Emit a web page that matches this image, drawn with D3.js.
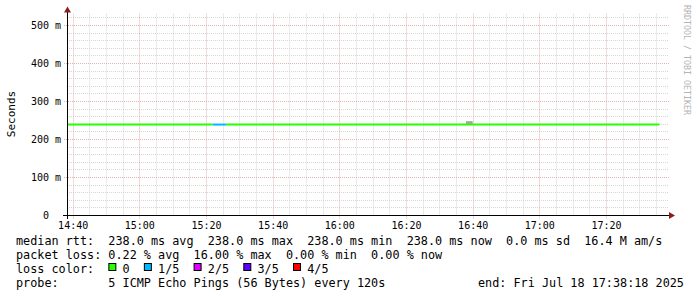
<!DOCTYPE html>
<html><head><meta charset="utf-8">
<script src="https://cdn.jsdelivr.net/npm/d3@7/dist/d3.min.js"></script>
<style>
html,body{margin:0;padding:0;background:#fff;}
svg{display:block;}
text{font-family:"DejaVu Sans Mono",monospace;white-space:pre;}
</style></head>
<body>
<script>
// ---- data ----
const startTime = "14:38:18";
const endTime = "17:38:18";
const segStart = ["14:38:18", "15:22:00", "15:26:00"];
const segEnd   = ["15:22:00", "15:26:00", "17:36:00"];
const segMedianMs = [238, 238, 238];
const segLoss = ["0", "1/5", "0"];
const smokeStart = ["16:38:00"];
const smokeEnd = ["16:40:00"];
const smokeLoMs = [238];
const smokeHiMs = [247];
const yTicks = [0, 100, 200, 300, 400, 500];
const yTickLabels = ["0  ", "100 m", "200 m", "300 m", "400 m", "500 m"];
const lossLabels = ["0", "1/5", "2/5", "3/5", "4/5"];
const lossColors = ["#26ff00", "#00b8ff", "#dd00ff", "#5e00ff", "#ff0000"];
const legendLines = [
  "median rtt:  238.0 ms avg  238.0 ms max  238.0 ms min  238.0 ms now  0.0 ms sd  16.4 M am/s",
  "packet loss: 0.22 % avg  16.00 % max  0.00 % min  0.00 % now",
  "loss color:",
  "probe:       5 ICMP Echo Pings (56 Bytes) every 120s"
];
const endLabel = "end: Fri Jul 18 17:38:18 2025";
const yTitle = "Seconds";
const watermark = "RRDTOOL / TOBI OETIKER";

// ---- layout ----
const W = 697, H = 297;
const L = 67, R = 667, B = 215, T = 13.6;
const parse = d3.timeParse("%H:%M:%S");
const x = d3.scaleTime().domain([parse(startTime), parse(endTime)]).range([L, R]);
const y = d3.scaleLinear().domain([0, 530]).range([B, T]);
const lossColor = d3.scaleOrdinal().domain(lossLabels).range(lossColors);

const svg = d3.select("body").append("svg").attr("width", W).attr("height", H);

const majorCol = "#e6b3b3", minorCol = "#d6d6d6";
// minor grid
const minorY = d3.range(0, 521, 20).filter(v => v % 100 !== 0);
svg.append("g").selectAll("line").data(minorY).join("line")
  .attr("x1", L).attr("x2", R + 2)
  .attr("y1", d => Math.round(y(d)) + 0.5).attr("y2", d => Math.round(y(d)) + 0.5)
  .attr("stroke", minorCol).attr("stroke-dasharray", "1,1");
const minorX = d3.timeMinute.every(5).range(parse(startTime), parse(endTime))
  .filter(d => d.getMinutes() % 20 !== 0);
svg.append("g").selectAll("line").data(minorX).join("line")
  .attr("x1", d => Math.round(x(d)) + 0.5).attr("x2", d => Math.round(x(d)) + 0.5)
  .attr("y1", T).attr("y2", B)
  .attr("stroke", minorCol).attr("stroke-dasharray", "1,1");
// major grid
svg.append("g").selectAll("line").data(yTicks.slice(1)).join("line")
  .attr("x1", L - 3).attr("x2", R + 2)
  .attr("y1", d => Math.round(y(d)) + 0.5).attr("y2", d => Math.round(y(d)) + 0.5)
  .attr("stroke", majorCol).attr("stroke-dasharray", "1,1");
const majorX = d3.timeMinute.every(20).range(parse(startTime), parse(endTime));
svg.append("g").selectAll("line").data(majorX).join("line")
  .attr("x1", d => Math.round(x(d)) + 0.5).attr("x2", d => Math.round(x(d)) + 0.5)
  .attr("y1", T).attr("y2", B + 4)
  .attr("stroke", majorCol).attr("stroke-dasharray", "1,1");

// smoke
svg.append("g").selectAll("rect").data(smokeStart).join("rect")
  .attr("x", (d, i) => x(parse(d)))
  .attr("width", (d, i) => x(parse(smokeEnd[i])) - x(parse(d)))
  .attr("y", (d, i) => y(smokeHiMs[i]))
  .attr("height", (d, i) => y(smokeLoMs[i]) - y(smokeHiMs[i]))
  .attr("fill", "#a6a6a6");

// median line colored by loss
svg.append("g").selectAll("line").data(segStart).join("line")
  .attr("x1", (d, i) => x(parse(d))).attr("x2", (d, i) => x(parse(segEnd[i])))
  .attr("y1", (d, i) => y(segMedianMs[i])).attr("y2", (d, i) => y(segMedianMs[i]))
  .attr("stroke", (d, i) => lossColor(segLoss[i])).attr("stroke-width", 2);

// axes
svg.append("line").attr("x1", L - 4).attr("x2", R + 4).attr("y1", B + 0.5).attr("y2", B + 0.5).attr("stroke", "#000");
svg.append("line").attr("x1", L + 0.5).attr("x2", L + 0.5).attr("y1", B + 4).attr("y2", T - 2).attr("stroke", "#000");
svg.append("path").attr("d", `M${R + 2},${B - 3} L${R + 8},${B + 0.5} L${R + 2},${B + 4} Z`).attr("fill", "#8c1c1c");
svg.append("path").attr("d", `M${L - 3},${T - 1} L${L + 0.5},${T - 7} L${L + 4},${T - 1} Z`).attr("fill", "#8c1c1c");

// y tick labels
svg.append("g").selectAll("text").data(yTicks).join("text")
  .attr("x", 61).attr("y", d => y(d) + 3.5).attr("text-anchor", "end")
  .attr("font-size", 10).attr("fill", "#000")
  .text((d, i) => yTickLabels[i]);
// x tick labels
const fmt = d3.timeFormat("%H:%M");
svg.append("g").selectAll("text").data(majorX).join("text")
  .attr("x", d => x(d) + 0.5).attr("y", 228.5).attr("text-anchor", "middle")
  .attr("font-size", 10).attr("fill", "#000")
  .text(d => fmt(d));

// y title
svg.append("text").attr("transform", "translate(14.5,114) rotate(-90)")
  .attr("text-anchor", "middle").attr("font-size", 11).attr("fill", "#000").text(yTitle);

// watermark
svg.append("text").attr("transform", "translate(684,5) rotate(90)")
  .attr("font-size", 8.3).attr("fill", "#b4b4b4").text(watermark);

// legend text
const fs = 11.8, cw = fs * 0.602;
const baselines = [244.5, 258.5, 272.5, 286.5];
svg.append("g").selectAll("text").data(legendLines).join("text")
  .attr("x", 16).attr("y", (d, i) => baselines[i])
  .attr("font-size", fs).attr("fill", "#000").text(d => d);
svg.append("text").attr("x", 478).attr("y", baselines[3])
  .attr("font-size", fs).attr("fill", "#000").text(endLabel);

// loss color legend
let cx = 16 + 13 * cw;
const lg = svg.append("g");
lossLabels.forEach((lab, i) => {
  lg.append("rect").attr("x", cx + 0.5).attr("y", 263.5).attr("width", 7).attr("height", 7)
    .attr("fill", lossColors[i]).attr("stroke", "#000");
  const tx = cx + 2 * cw;
  lg.append("text").attr("x", tx).attr("y", baselines[2]).attr("font-size", fs).attr("fill", "#000").text(lab);
  cx = tx + lab.length * cw + 2 * cw;
});
</script>
</body></html>
